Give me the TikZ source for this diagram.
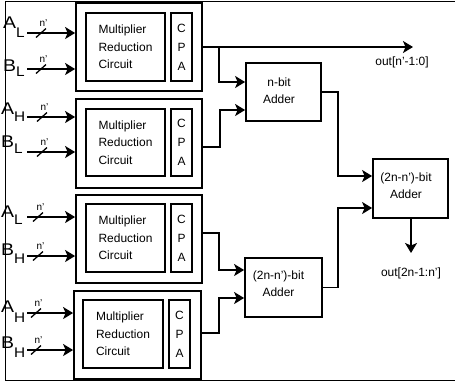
\documentclass[tikz,border=0pt]{standalone}
\usepackage{fontspec}
\setmainfont{Liberation Sans}
\usetikzlibrary{arrows.meta,calc}
\begin{document}
\begin{tikzpicture}[x=1bp,y=-1bp,
  blk/.style={draw, line width=1.8bp, inner sep=0pt},
  arr/.style={line width=1.6bp, -{Stealth[length=10bp,width=12bp,inset=2.5bp]}},
  ln/.style={line width=1.6bp},
  mrc/.style={blk, minimum width=79bp, minimum height=68bp, align=left, font=\fontsize{12}{17.5}\selectfont},
  cpa/.style={blk, minimum width=21bp, minimum height=68bp, align=center, font=\fontsize{12}{19}\selectfont},
  outer/.style={blk, minimum width=126bp, minimum height=88bp},
  adder/.style={blk, minimum width=75bp, minimum height=58bp},
  atxt/.style={align=center, inner sep=0pt, font=\fontsize{12}{17}\selectfont},
  otxt/.style={inner sep=0pt, font=\fontsize{12}{12}\selectfont},
]
\useasboundingbox (0,0) rectangle (455,385);
% page frame
\draw[line width=1bp] (455,1) -- (5,1) -- (5,380) -- (455,380);

% multiplier blocks
\node[outer] (o1) at (139,47) {};
\node[outer, minimum height=89bp] (o2) at (139,143.5) {};
\node[outer] (o3) at (139,239) {};
\node[outer, minimum width=127bp] (o4) at (137.5,335) {};

\node[mrc] (m1) at (125.5,47) {Multiplier\\Reduction\\Circuit};
\node[mrc, minimum height=67bp] (m2) at (125.5,142.5) {Multiplier\\Reduction\\Circuit};
\node[mrc] (m3) at (125.5,238) {Multiplier\\Reduction\\Circuit};
\node[mrc, minimum width=80bp] (m4) at (123,334) {Multiplier\\Reduction\\Circuit};

\node[cpa] (c1) at (181.5,47) {C\\P\\A};
\node[cpa, minimum height=67bp] (c2) at (181.5,142.5) {C\\P\\A};
\node[cpa] (c3) at (181.5,238) {C\\P\\A};
\node[cpa] (c4) at (179.5,334) {C\\P\\A};

% adders
\node[adder] (a1) at (283.5,92) {};
\node[atxt] (a1t) at (279,90.5) {n-bit\\Adder};
\node[adder, minimum width=77bp, minimum height=59bp] (a2) at (283.5,287.5) {};
\node[atxt] (a2t) at (278.5,284) {(2n-n’)-bit\\Adder};
\node[adder, minimum height=59bp] (a3) at (410.5,188.5) {};
\node[atxt] (a3t) at (406,186) {(2n-n’)-bit\\Adder};

% inputs
\newcommand\inarrow[4]{%
  \coordinate (#1) at (27,#2);
  \draw[arr] (#1) -- (#1 -| #3.west);
  \draw[line width=1.3bp] (#4-5,#2+4.5) -- (#4+5,#2-4.5);
  \node[inner sep=0pt, font=\fontsize{10}{10}\selectfont] (#1n) at (#4+2.5,#2-9.5) {n’};
}
\newcommand\inlab[6]{%
  \node[anchor=base west, inner sep=0pt, font=\fontsize{17}{17}\selectfont] (#1) at (#2,#3) {\scalebox{1.15}[1]{#4}\raisebox{-#6bp}{\fontsize{14}{14}\selectfont\scalebox{1.1}[1]{#5}}};
}
\inarrow{i1a}{33}{o1}{41}
\inarrow{i1b}{69}{o1}{41}
\inarrow{i2a}{117}{o2}{42}
\inarrow{i2b}{152}{o2}{42}
\inarrow{i3a}{217}{o3}{38}
\inarrow{i3b}{256}{o3}{38}
\inarrow{i4a}{313}{o4}{36}
\inarrow{i4b}{350}{o4}{36}

\inlab{l1a}{3}{28}{A}{L}{9}
\inlab{l1b}{3}{71}{B}{L}{5}
\inlab{l2a}{1}{114}{A}{H}{7}
\inlab{l2b}{1}{147}{B}{L}{6}
\inlab{l3a}{1}{217}{A}{L}{7}
\inlab{l3b}{1}{255}{B}{H}{8}
\inlab{l4a}{1}{312}{A}{H}{10}
\inlab{l4b}{1}{348}{B}{H}{9}

% outputs and connections
\coordinate (out1) at (413,47);
\coordinate (j1) at (219,47);
\draw[arr] (o1.east) -- (out1);
\node[otxt] (lout1) at (402,62) {out[n’-1:0]};
\draw[arr] (j1) |- ([yshift=10bp]a1.west);
\draw[arr] ([yshift=-3.5bp]o2.east) -- ++(17,0) |- ([yshift=-18bp]a1.west);
\draw[arr] ([yshift=6bp]o3.east) -- ++(16,0) |- ([yshift=17.5bp]a2.west);
\draw[arr] ([yshift=2bp]o4.east) -- ++(17,0) |- ([yshift=-10.5bp]a2.west);
\draw[arr] (a1.east) -- ++(16,0) |- ([yshift=12.5bp]a3.west);
\draw[arr] (a2.east) -- ++(15,0) |- ([yshift=-19.5bp]a3.west);
\coordinate (out2) at (411,253);
\draw[arr] (a3.south -| out2) -- (out2);
\node[otxt] (lout2) at (411,273) {out[2n-1:n’]};
\end{tikzpicture}
\end{document}
